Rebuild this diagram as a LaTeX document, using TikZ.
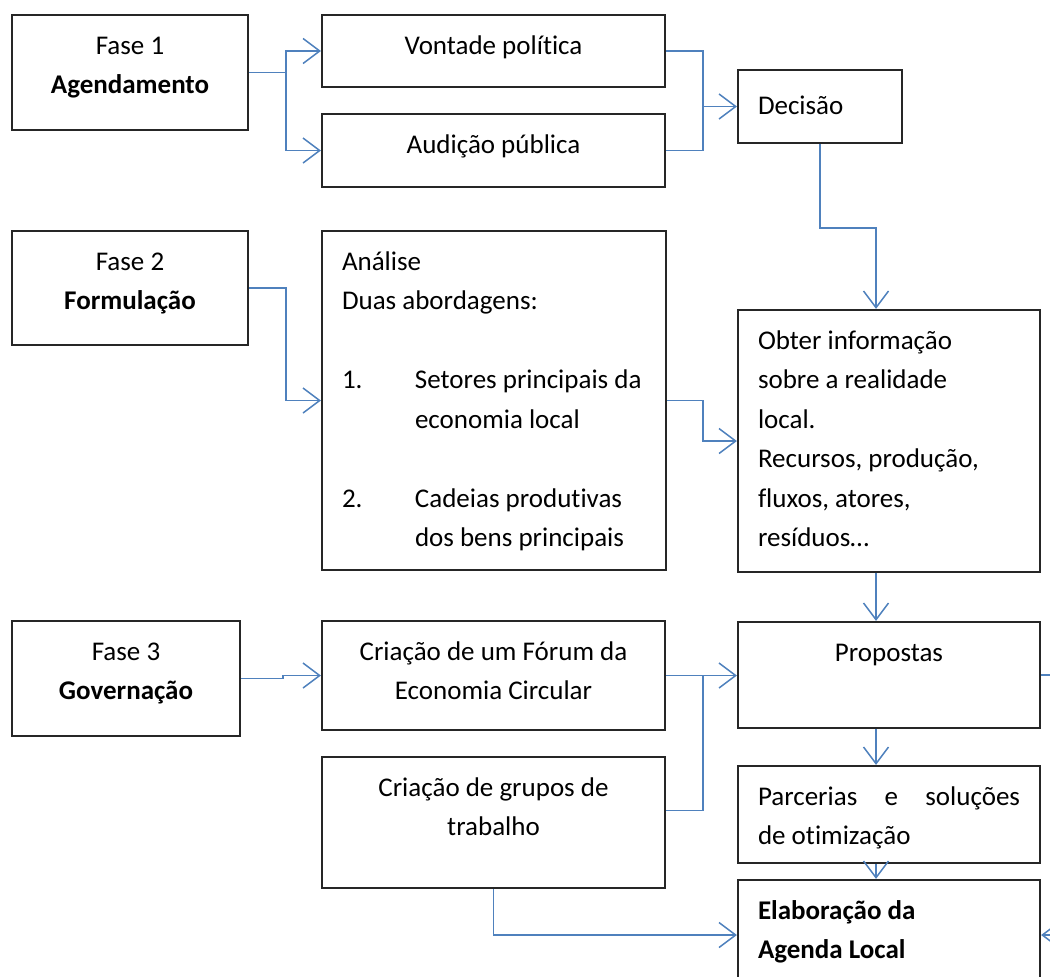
\documentclass[tikz,border=0pt]{standalone}
\usepackage{fontspec}
\setmainfont{Carlito}[Ligatures=NoCommon]
\usetikzlibrary{arrows.meta,positioning}

\definecolor{linkblue}{RGB}{79,129,189}

\tikzset{
  blk/.style={draw=black!85, line width=1.3pt, inner xsep=12pt, inner ysep=0pt,
              font=\fontsize{16.2}{23.7}\selectfont},
  link/.style={draw=linkblue, line width=0.9pt, -{Straight Barb[length=10pt,width=15pt]}},
  wire/.style={draw=linkblue, line width=0.9pt},
}

% box contents: width, height, text (first baseline fixed from the top)
\newcommand{\cellc}[3]{\parbox[c][#2][t]{#1}{\centering\rule{0pt}{23.4pt}#3}}
\newcommand{\celll}[3]{\parbox[c][#2][t]{#1}{\raggedright\rule{0pt}{23.4pt}#3}}

\begin{document}
\begin{tikzpicture}[x=0.6pt, y=-0.6pt]
    \useasboundingbox (0,0) rectangle (1050,976);

    % fase 1
    \node[blk] (fase1) at (130,72.5)  {\cellc{117.6pt}{69pt}{Fase 1\\\textbf{Agendamento}}};
    \node[blk] (vont)  at (493.5,51)  {\cellc{181.8pt}{43.2pt}{Vontade política}};
    \node[blk] (aud)   at (493.5,150.5) {\cellc{181.8pt}{43.8pt}{Audição pública}};
    \node[blk] (dec)   at (820,106.5) {\celll{74.4pt}{43.8pt}{\rule{0pt}{26.5pt}Decisão}};

    % fase 2
    \node[blk] (fase2) at (130,288)   {\cellc{117.6pt}{68.4pt}{Fase 2\\\textbf{Formulação}}};
    \node[blk] (anal)  at (494,400.5) {\celll{182.4pt}{203.4pt}{Análise\\Duas abordagens:\\[23.7pt]
        \makebox[43.8pt][l]{1.}Setores principais da\\\hspace*{43.8pt}economia local\\[23.7pt]
        \makebox[43.8pt][l]{2.}Cadeias produtivas\\\hspace*{43.8pt}dos bens principais}};
    \node[blk] (obt)   at (889,441)   {\celll{157.2pt}{157.2pt}{Obter informação\\sobre a realidade\\local.\\
        Recursos, produção,\\fluxos, atores,\\resíduos…}};

    % fase 3
    \node[blk] (fase3) at (126,678.5) {\cellc{112.8pt}{69pt}{Fase 3\\\textbf{Governação}}};
    \node[blk] (forum) at (493.5,675.5) {\cellc{181.8pt}{65.4pt}{Criação de um Fórum da\\Economia Circular}};
    \node[blk] (grp)   at (493.5,822.5) {\cellc{181.8pt}{78.6pt}{Criação de grupos de\\trabalho}};
    \node[blk] (prop)  at (889,675)   {\cellc{157.2pt}{63.6pt}{Propostas}};
    \node[blk] (parc)  at (889,814.5) {\celll{157.2pt}{58.2pt}{Parcerias\hfill e\hfill soluções\\de otimização}};
    \node[blk] (elab)  at (889,935)   {\celll{157.2pt}{66pt}{\textbf{Elaboração da}\\\textbf{Agenda Local}}};

    % connectors
    \draw[link] (fase1.east) -- ++(37,0) coordinate (s1) |- (vont.west);
    \draw[link] (s1) |- (aud.west);
    \draw[link] (vont.east) -- ++(37,0) |- (dec.west);
    \draw[wire] (aud.east) -- ++(37,0) coordinate (j1) -- (j1 |- dec.west);
    \draw[link] (dec.south) -- ++(0,84) -| ([xshift=-7.8pt]obt.north);

    \draw[link] (fase2.east) -- ++(37,0) |- (anal.west);
    \draw[link] (anal.east) -- ++(36,0) |- (obt.west);
    \draw[link] ([xshift=-7.8pt]obt.south) -- ([xshift=-7.8pt]prop.north);

    \draw[link] (fase3.east) -- ++(42,0) |- (forum.west);
    \draw[link] (forum.east) -- (forum.east -| prop.west);
    \draw[wire] ([yshift=7.2pt]grp.east) -- ++(37,0) coordinate (j2) -- (j2 |- forum.east);
    \draw[link] (grp.south) |- (elab.west);
    \draw[link] ([xshift=-7.8pt]prop.south) -- ([xshift=-7.8pt]parc.north);
    \draw[link] ([xshift=-7.8pt]parc.south) -- ([xshift=-7.8pt]elab.north);
    \draw[link] (prop.east) -- ++(30,0) |- (elab.east);
\end{tikzpicture}
\end{document}
